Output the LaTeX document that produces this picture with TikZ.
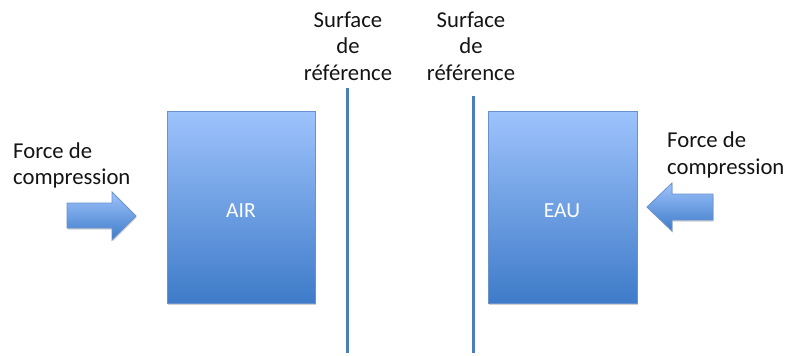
\documentclass[tikz,border=0pt]{standalone}
\usepackage{fontspec}
\setmainfont{Carlito}
\usetikzlibrary{shadows}

\definecolor{boxtop}{RGB}{158,195,252}
\definecolor{boxbot}{RGB}{62,123,201}
\definecolor{boxedge}{RGB}{105,145,205}
\definecolor{refline}{RGB}{74,126,187}
\definecolor{labeltext}{RGB}{20,20,20}

\tikzset{
  blockshape/.style={top color=boxtop, bottom color=boxbot, draw=boxedge, line width=0.8pt,
    drop shadow={shadow xshift=0.6pt, shadow yshift=-1.6pt, opacity=0.3, fill=black!60}},
  blocktext/.style={text=white, font=\fontsize{21.5}{25}\selectfont, anchor=base, inner sep=0pt},
  caption/.style={text=labeltext, font=\fontsize{22.7}{26.5}\selectfont, inner sep=0pt},
  refsurface/.style={draw=refline, line width=3pt},
}

\begin{document}
\begin{tikzpicture}[x=1pt, y=-1pt]
  \useasboundingbox (0,0) rectangle (790,356);

  % the two blocks
  \path[blockshape] (167,111) rectangle (315,303);
  \path[blockshape] (488,111) rectangle (637,303);
  \node[blocktext] (air) at (241,217) {AIR};
  \node[blocktext] (eau) at (562,217) {EAU};

  % reference surfaces
  \coordinate (s1top) at (347,88);
  \coordinate (s1bot) at (347,353);
  \coordinate (s2top) at (473,96);
  \coordinate (s2bot) at (473,353);
  \draw[refsurface] (s1top) -- (s1bot);
  \draw[refsurface] (s2top) -- (s2bot);
  \node[caption, align=center, anchor=north] (ref1) at (348,11.5) {Surface\\de\\référence};
  \node[caption, align=center, anchor=north] (ref2) at (471,11.5) {Surface\\de\\référence};

  % compression forces
  \path[blockshape] (67,203) -- (112,203) -- (112,192) -- (136,216) -- (112,240) -- (112,228) -- (67,228) -- cycle;
  \path[blockshape] (713,194) -- (672,194) -- (672,183) -- (647,207) -- (672,231) -- (672,220) -- (713,220) -- cycle;
  \node[caption, align=left, anchor=north west] (f1) at (13,142.5) {Force de\\compression};
  \node[caption, align=left, anchor=north west] (f2) at (667,132) {Force de\\compression};
\end{tikzpicture}
\end{document}
